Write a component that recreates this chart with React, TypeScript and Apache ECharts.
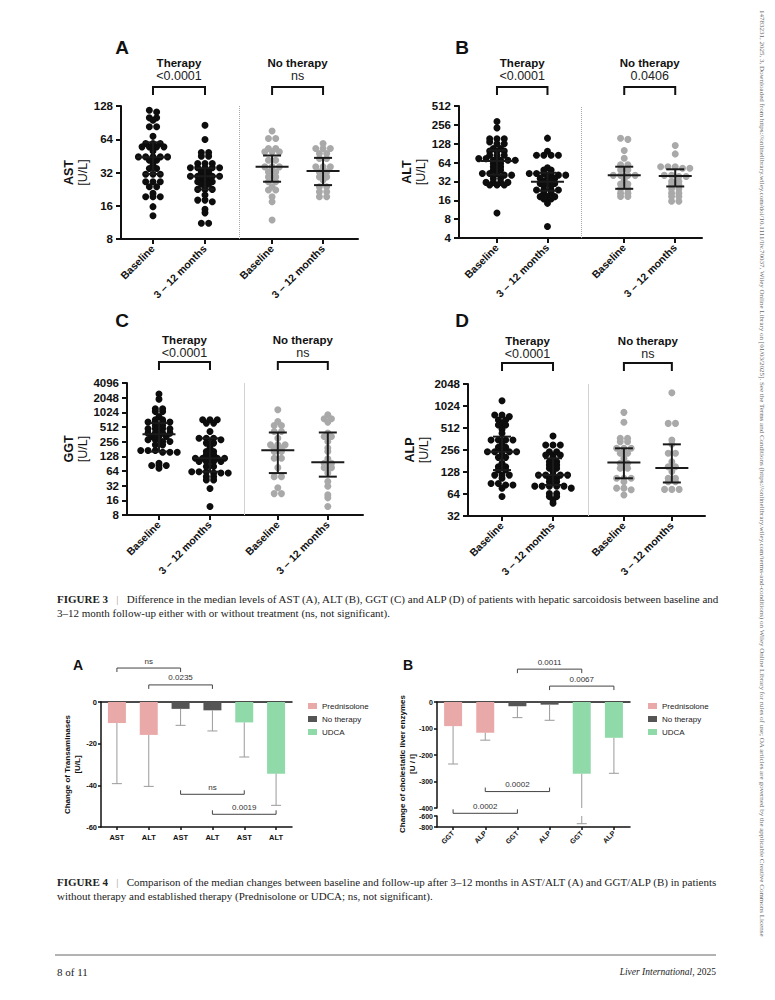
import React, { useEffect, useRef } from "react";
import * as echarts from "echarts";

const SANS = "'Liberation Sans', Arial, Helvetica, sans-serif";
const SERIF = "'Liberation Serif', 'Times New Roman', serif";
const INK = "#111111";
const DOT_THERAPY = "#0d0d0d";
const DOT_NOTHERAPY = "#a9a9a9";

// ---------------- Figure 3 data ----------------
const GROUP_LABELS = ["Baseline", "3 – 12 months", "Baseline", "3 – 12 months"];
const GROUP_TITLES = ["Therapy", "No therapy"];

// AST [U/L]
const AST_THERAPY_BASELINE = [117, 113, 100, 100, 95, 83, 83, 68, 58.5, 58.5, 58.5, 54.6, 54.6, 54.6, 54.6, 50, 44.3, 44.3, 44.3, 44.3, 44.3, 41.3, 41.3, 37.3, 34.8, 34.8, 30.9, 30.9, 30.9, 26.4, 26.4, 26.4, 23.8, 23.8, 20.7, 19.3, 19.3, 19.3, 15.7, 13];
const AST_THERAPY_FOLLOWUP = [85.6, 63.6, 48.5, 48.5, 45, 45, 38.6, 38.6, 38.6, 35.3, 35.3, 35.3, 35.3, 35.3, 32.4, 32.4, 29.6, 29.6, 29.6, 29.6, 29.6, 28.2, 28.2, 26.4, 26.4, 26.4, 25.1, 25.1, 22.5, 22.5, 22.5, 20, 18, 18, 17.4, 14.9, 13.8, 11.1, 11.1];
const AST_NOTHERAPY_BASELINE = [76, 65, 65, 52.7, 52.7, 49.2, 49.2, 49.2, 41.3, 41.3, 36, 36, 36, 32.4, 32.4, 29.2, 29.2, 26.4, 26.4, 23.8, 22.2, 22.2, 19.3, 17.4, 11.9];
const AST_NOTHERAPY_FOLLOWUP = [58.5, 52.7, 52.7, 52.7, 47.5, 47.5, 42.8, 42.8, 36, 36, 36, 32.4, 32.4, 29.2, 29.2, 27.3, 23.8, 23.8, 21.4, 21.4, 19.3, 19.3];
const AST_SUMMARY = [[44, 31, 60], [29.6, 22.5, 35], [36, 26.4, 45.6], [33, 24.6, 43.4]]; // median, Q1, Q3
const AST_PVALUES = ["<0.0001", "ns"];

// ALT [U/L]
const ALT_THERAPY_BASELINE = [290, 229, 153, 153, 153, 136, 128, 128, 107, 107, 98, 98, 98, 84, 84, 84, 74, 74, 69.6, 69.6, 69.6, 69.6, 62, 62, 54.7, 54.7, 48.5, 48.5, 42.9, 42.9, 42.9, 40.3, 40.3, 35.8, 35.8, 30.9, 30.9, 30.9, 30.9, 28.1, 28.1, 28.1, 10];
const ALT_THERAPY_FOLLOWUP = [157, 97, 84, 84, 84, 84, 52.7, 48.5, 48.5, 42.9, 42.9, 42.9, 40.3, 40.3, 40.3, 35.8, 35.8, 35.8, 32.5, 32.5, 29.7, 29.7, 29.7, 27.3, 27.3, 23.3, 23.3, 23.3, 23.3, 20.7, 20.7, 18.3, 18.3, 18.3, 16.8, 16.8, 14.3, 6.1];
const ALT_NOTHERAPY_BASELINE = [156, 150, 100, 75, 59, 59, 49, 49, 40, 40, 40, 40, 34, 29, 29, 24.4, 24.4, 20.8, 20.8, 18.4, 18.4];
const ALT_NOTHERAPY_FOLLOWUP = [120, 88, 55, 55, 55, 52, 52, 40, 40, 38.4, 38.4, 32, 32, 28.3, 28.3, 24.4, 24.4, 20.8, 20.8, 18.4, 18.4, 15.4, 15.4];
const ALT_SUMMARY = [[68, 41, 100], [31.6, 22.7, 44], [40, 24.4, 55], [39, 26.6, 50]];
const ALT_PVALUES = ["<0.0001", "0.0406"];

// GGT [U/L]
const GGT_THERAPY_BASELINE = [2435, 1910, 1210, 1210, 1070, 1070, 843, 720, 720, 645, 645, 645, 645, 550, 550, 471, 471, 471, 471, 383, 383, 383, 383, 326, 326, 326, 280, 280, 258, 258, 220, 220, 169, 169, 169, 155, 155, 155, 92, 83, 83, 83, 73];
const GGT_THERAPY_FOLLOWUP = [720, 720, 720, 615, 615, 413, 302, 302, 302, 280, 239, 239, 189, 161, 161, 137, 137, 117, 117, 117, 117, 117, 100, 100, 100, 100, 79, 79, 62, 62, 62, 58, 58, 58, 49, 49, 42, 42, 28, 12];
const GGT_NOTHERAPY_BASELINE = [1160, 665, 550, 550, 413, 413, 302, 220, 220, 220, 189, 189, 161, 161, 117, 117, 75, 49, 49, 29, 22, 22];
const GGT_NOTHERAPY_FOLLOWUP = [910, 755, 755, 645, 383, 326, 326, 258, 189, 161, 114, 92, 92, 75, 75, 58, 39, 31, 20.7, 18, 12];
const GGT_SUMMARY = [[365, 160, 615], [117, 62, 300], [170, 58, 395], [97, 49, 395]];
const GGT_PVALUES = ["<0.0001", "ns"];

// ALP [U/L]
const ALP_THERAPY_BASELINE = [1210, 770, 770, 733, 657, 657, 605, 564, 564, 491, 434, 350, 350, 350, 350, 300, 278, 278, 242, 242, 242, 242, 242, 218, 203, 203, 168, 151, 151, 136, 136, 116, 116, 116, 105, 89, 89, 85, 85, 77, 59];
const ALP_THERAPY_FOLLOWUP = [398, 300, 300, 300, 242, 242, 218, 218, 218, 203, 177, 177, 160, 160, 144, 144, 130, 116, 116, 116, 116, 116, 105, 105, 94, 94, 82, 82, 82, 82, 82, 77, 65, 65, 59, 59, 53, 48];
const ALP_NOTHERAPY_BASELINE = [838, 613, 370, 370, 333, 333, 270, 270, 270, 231, 231, 197, 168, 168, 144, 144, 105, 105, 105, 94, 77, 77, 73, 62];
const ALP_NOTHERAPY_FOLLOWUP = [1550, 592, 592, 350, 306, 231, 231, 177, 151, 151, 130, 105, 105, 94, 94, 74, 74, 74];
const ALP_SUMMARY = [[242, 136, 390], [116, 85, 197], [172, 105, 270], [145, 92, 306]];
const ALP_PVALUES = ["<0.0001", "ns"];

// ---------------- Figure 4 data ----------------
const TREATMENTS = ["Prednisolone", "No therapy", "UDCA"];
const TREATMENT_COLORS = ["#eaa9a9", "#555555", "#8fdaa8"];
const TRANS_CATEGORIES = ["AST", "ALT", "AST", "ALT", "AST", "ALT"];
const TRANS_TREATMENT = [0, 0, 1, 1, 2, 2];
const TRANS_MEDIAN_CHANGE = [-10.1, -15.8, -3.3, -4.0, -9.8, -34.4];
const TRANS_ERROR_LOW = [-39.2, -40.5, -11.2, -13.9, -26.4, -49.6];
const TRANS_COMPARISONS: [number, number, string][] = [[0, 2, "ns"], [1, 3, "0.0235"], [2, 4, "ns"], [3, 5, "0.0019"]];

const CHOL_CATEGORIES = ["GGT", "ALP", "GGT", "ALP", "GGT", "ALP"];
const CHOL_TREATMENT = [0, 0, 1, 1, 2, 2];
const CHOL_MEDIAN_CHANGE = [-91, -116, -16, -10, -271, -135];
const CHOL_ERROR_LOW = [-234, -144, -59, -69, -740, -269];
const CHOL_COMPARISONS: [number, number, string][] = [[2, 4, "0.0011"], [3, 5, "0.0067"], [1, 3, "0.0002"], [0, 2, "0.0002"]];

// ---------------- Layout ----------------
const FIG3_PANELS = [
  { letter: "A", lx: 122, ly: 47, label: "AST", groups: [AST_THERAPY_BASELINE, AST_THERAPY_FOLLOWUP, AST_NOTHERAPY_BASELINE, AST_NOTHERAPY_FOLLOWUP], summary: AST_SUMMARY, pvalues: AST_PVALUES, ymin: 8, ymax: 128,
    grid: { left: 121, top: 106, width: 237, height: 133 }, xpos: [0, 1, 2.29, 3.27], xmin: -0.615, xmax: 3.942, divider: 1.655, dividerType: "dotted", nameGap: 30, bracketOff: 19 },
  { letter: "B", lx: 462, ly: 47, label: "ALT", groups: [ALT_THERAPY_BASELINE, ALT_THERAPY_FOLLOWUP, ALT_NOTHERAPY_BASELINE, ALT_NOTHERAPY_FOLLOWUP], summary: ALT_SUMMARY, pvalues: ALT_PVALUES, ymin: 4, ymax: 512,
    grid: { left: 459, top: 106, width: 243, height: 132 }, xpos: [0, 1, 2.52, 3.53], xmin: -0.752, xmax: 4.06, divider: 1.66, dividerType: "dotted", nameGap: 26, bracketOff: 19 },
  { letter: "C", lx: 122, ly: 320, label: "GGT", groups: [GGT_THERAPY_BASELINE, GGT_THERAPY_FOLLOWUP, GGT_NOTHERAPY_BASELINE, GGT_NOTHERAPY_FOLLOWUP], summary: GGT_SUMMARY, pvalues: GGT_PVALUES, ymin: 8, ymax: 4096,
    grid: { left: 127, top: 383, width: 236, height: 132 }, xpos: [0, 1, 2.33, 3.31], xmin: -0.627, xmax: 4.0, divider: 1.667, dividerType: "solid", nameGap: 36, bracketOff: 21 },
  { letter: "D", lx: 462, ly: 320, label: "ALP", groups: [ALP_THERAPY_BASELINE, ALP_THERAPY_FOLLOWUP, ALP_NOTHERAPY_BASELINE, ALP_NOTHERAPY_FOLLOWUP], summary: ALP_SUMMARY, pvalues: ALP_PVALUES, ymin: 32, ymax: 2048,
    grid: { left: 468, top: 384, width: 237, height: 132 }, xpos: [0, 1, 2.39, 3.33], xmin: -0.667, xmax: 3.98, divider: 1.686, dividerType: "solid", nameGap: 35, bracketOff: 21 },
];

const TRANS_BRACKET_LEVEL = [16.3, 8.2, -44.3, -53.9];
const CHOL_BRACKET_LEVEL = [124, 60, -338, -420];

const DOT_SIZE = 7;
const DOT_SPACING = 7.3;
const ROW_HEIGHT = 2;

// GraphPad-like row layout: values that fall into the same narrow band are spread side by side
function rowOffsets(values: number[], pxPerLog2: number, d: number, band: number): number[] {
  const ys = values.map((v) => -Math.log2(v) * pxPerLog2);
  const order = values.map((_, i) => i).sort((a, b) => ys[a] - ys[b]);
  const xs: number[] = new Array(values.length).fill(0);
  let start = 0;
  while (start < order.length) {
    let end = start;
    while (end + 1 < order.length && ys[order[end + 1]] - ys[order[start]] < band) end++;
    const m = end - start + 1;
    for (let j = 0; j < m; j++) xs[order[start + j]] = (j - (m - 1) / 2) * d;
    start = end + 1;
  }
  return xs;
}

function nearestIndex(arr: number[], v: number) {
  let best = 0;
  for (let i = 1; i < arr.length; i++) if (Math.abs(arr[i] - v) < Math.abs(arr[best] - v)) best = i;
  return best;
}

function buildOption() {
  const grids: any[] = [];
  const xAxes: any[] = [];
  const yAxes: any[] = [];
  const series: any[] = [];
  const graphic: any[] = [];

  // ---------- Figure 3 ----------
  FIG3_PANELS.forEach((p, k) => {
    grids.push({ ...p.grid, outerBoundsMode: "none" });
    xAxes.push({
      type: "value", gridIndex: k, min: p.xmin, max: p.xmax,
      axisLine: { show: true, onZero: false, lineStyle: { color: INK, width: 2 } },
      axisTick: { show: true, customValues: p.xpos, length: 5, lineStyle: { color: INK, width: 2 } },
      axisLabel: {
        show: true, customValues: p.xpos, rotate: 45, margin: 8, color: INK,
        fontFamily: SANS, fontWeight: "bold", fontSize: 10.5,
        formatter: (v: number) => GROUP_LABELS[nearestIndex(p.xpos, v)],
      },
      splitLine: { show: false },
    });
    yAxes.push({
      type: "log", logBase: 2, gridIndex: k, min: p.ymin, max: p.ymax, splitNumber: 10,
      name: `{b|${p.label}}\n{n|[U/L]}`, nameLocation: "middle", nameRotate: 90, nameGap: p.nameGap,
      nameTextStyle: {
        rich: {
          b: { fontFamily: SANS, fontWeight: "bold", fontSize: 12.5, color: INK, lineHeight: 14 },
          n: { fontFamily: SANS, fontSize: 12.5, color: INK, lineHeight: 14 },
        },
      },
      axisLine: { show: true, onZero: false, lineStyle: { color: INK, width: 2 } },
      axisTick: { show: true, length: 5, lineStyle: { color: INK, width: 2 } },
      minorTick: { show: false },
      axisLabel: { color: INK, fontFamily: SANS, fontWeight: "bold", fontSize: 11.5, margin: 8, formatter: (v: number) => String(Math.round(v)) },
      splitLine: { show: false },
    });

    const pxPerLog2 = p.grid.height / (Math.log2(p.ymax) - Math.log2(p.ymin));
    p.groups.forEach((vals, g) => {
      const offs = rowOffsets(vals, pxPerLog2, DOT_SPACING, ROW_HEIGHT);
      const s: any = {
        type: "scatter", name: `${p.label}-${g}`, xAxisIndex: k, yAxisIndex: k, z: 2,
        symbol: "circle", symbolSize: DOT_SIZE, silent: true,
        itemStyle: { color: g < 2 ? DOT_THERAPY : DOT_NOTHERAPY, opacity: 1 },
        data: vals.map((v, i) => ({ value: [p.xpos[g], v], symbolOffset: [offs[i], 0] })),
      };
      if (g === 0) {
        s.markLine = {
          silent: true, symbol: ["none", "none"], label: { show: false },
          lineStyle: { color: p.dividerType === "dotted" ? "#a8a8a8" : "#d2d2d2", type: p.dividerType, width: 1 },
          emphasis: { disabled: true },
          data: [{ xAxis: p.divider }],
        };
      }
      series.push(s);
    });

    // median with interquartile range
    series.push({
      type: "custom", xAxisIndex: k, yAxisIndex: k, z: 4, silent: true,
      data: p.summary.map((s, g) => [p.xpos[g], s[0], s[1], s[2]]),
      renderItem: (params: any, api: any) => {
        const x = api.value(0);
        const pm = api.coord([x, api.value(1)]);
        const p1 = api.coord([x, api.value(2)]);
        const p3 = api.coord([x, api.value(3)]);
        const cx = pm[0];
        const st = { stroke: "#1a1a1a", lineWidth: 2 };
        return {
          type: "group",
          children: [
            { type: "line", shape: { x1: cx - 16.5, y1: pm[1], x2: cx + 16.5, y2: pm[1] }, style: st },
            { type: "line", shape: { x1: cx, y1: p1[1], x2: cx, y2: p3[1] }, style: st },
            { type: "line", shape: { x1: cx - 9, y1: p1[1], x2: cx + 9, y2: p1[1] }, style: st },
            { type: "line", shape: { x1: cx - 9, y1: p3[1], x2: cx + 9, y2: p3[1] }, style: st },
          ],
        };
      },
    });

    // group titles and comparison brackets
    series.push({
      type: "custom", xAxisIndex: k, yAxisIndex: k, z: 5, silent: true, clip: false,
      data: [[p.xpos[0], p.ymax, p.xpos[1]], [p.xpos[2], p.ymax, p.xpos[3]]],
      renderItem: (params: any, api: any) => {
        const i = params.dataIndex;
        const a = api.coord([api.value(0), api.value(1)]);
        const b = api.coord([api.value(2), api.value(1)]);
        const top = a[1];
        const yb = top - p.bracketOff;
        const cx = (a[0] + b[0]) / 2;
        return {
          type: "group",
          children: [
            { type: "polyline", shape: { points: [[a[0], yb + 8], [a[0], yb], [b[0], yb], [b[0], yb + 8]] }, style: { stroke: INK, lineWidth: 2, fill: null } },
            { type: "text", style: { text: p.pvalues[i], x: cx, y: top - 30, textAlign: "center", textVerticalAlign: "middle", fontFamily: SANS, fontSize: 12.5, fill: "#222" } },
            { type: "text", style: { text: GROUP_TITLES[i], x: cx, y: top - 43, textAlign: "center", textVerticalAlign: "middle", fontFamily: SANS, fontSize: 11.5, fontWeight: "bold", fill: INK } },
          ],
        };
      },
    });

    graphic.push({ type: "text", x: p.lx, y: p.ly, style: { text: p.letter, textAlign: "center", textVerticalAlign: "middle", font: `bold 19px ${SANS}`, fill: INK } });
  });

  // ---------- Figure 4 ----------
  const tickLabel = { color: INK, fontFamily: SANS, fontWeight: "bold", fontSize: 7.5 };
  const axisLineStyle = { color: INK, width: 1.5 };

  // grid 4: transaminases, grid 5/6: cholestatic enzymes (broken axis)
  grids.push({ left: 101, top: 702, width: 191, height: 125, outerBoundsMode: "none" });
  grids.push({ left: 437, top: 702, width: 193, height: 106, outerBoundsMode: "none" });
  grids.push({ left: 437, top: 816, width: 193, height: 11, outerBoundsMode: "none" });

  // xAxis 4 (grid 4 bottom), 5 (grid 4 top), 6 (grid 5 top), 7 (grid 6 bottom)
  xAxes.push({ type: "category", gridIndex: 4, data: TRANS_CATEGORIES, position: "bottom",
    axisLine: { show: true, onZero: false, lineStyle: axisLineStyle },
    axisTick: { show: true, alignWithLabel: true, length: 3, lineStyle: axisLineStyle },
    axisLabel: { ...tickLabel, margin: 6 }, splitLine: { show: false } });
  xAxes.push({ type: "category", gridIndex: 4, data: TRANS_CATEGORIES, position: "top",
    axisLine: { show: true, onZero: false, lineStyle: axisLineStyle }, axisTick: { show: false }, axisLabel: { show: false } });
  xAxes.push({ type: "category", gridIndex: 5, data: CHOL_CATEGORIES, position: "top",
    axisLine: { show: true, onZero: false, lineStyle: axisLineStyle }, axisTick: { show: false }, axisLabel: { show: false } });
  xAxes.push({ type: "category", gridIndex: 6, data: CHOL_CATEGORIES, position: "bottom",
    axisLine: { show: true, onZero: false, lineStyle: axisLineStyle },
    axisTick: { show: true, alignWithLabel: true, length: 3, lineStyle: axisLineStyle },
    axisLabel: { ...tickLabel, rotate: 45, margin: 5, fontSize: 7 }, splitLine: { show: false } });

  // yAxis 4 (grid 4), 5 (grid 5), 6 (grid 6)
  yAxes.push({ type: "value", gridIndex: 4, min: -60, max: 0, interval: 20,
    name: "Change of Transaminases\n[U/L]", nameLocation: "middle", nameRotate: 90, nameGap: 17,
    nameTextStyle: { fontFamily: SANS, fontWeight: "bold", fontSize: 8, color: INK, lineHeight: 10 },
    axisLine: { show: true, onZero: false, lineStyle: axisLineStyle },
    axisTick: { show: true, length: 3, lineStyle: axisLineStyle },
    axisLabel: { ...tickLabel, margin: 4 }, splitLine: { show: false } });
  yAxes.push({ type: "value", gridIndex: 5, min: -400, max: 0, interval: 100,
    axisLine: { show: true, onZero: false, lineStyle: axisLineStyle },
    axisTick: { show: true, length: 3, lineStyle: axisLineStyle },
    axisLabel: { ...tickLabel, fontSize: 7, margin: 4 }, splitLine: { show: false } });
  yAxes.push({ type: "value", gridIndex: 6, min: -800, max: -600, interval: 200,
    axisLine: { show: true, onZero: false, lineStyle: axisLineStyle },
    axisTick: { show: true, length: 3, lineStyle: axisLineStyle },
    axisLabel: { ...tickLabel, fontSize: 7, margin: 4 }, splitLine: { show: false } });

  const addBars = (xi: number, yi: number, med: number[], grp: number[]) => {
    TREATMENTS.forEach((name, t) => {
      series.push({
        type: "bar", name, xAxisIndex: xi, yAxisIndex: yi, barWidth: 18, barGap: "-100%", z: 2, silent: true,
        itemStyle: { color: TREATMENT_COLORS[t] },
        data: med.map((v, i) => (grp[i] === t ? v : "-")),
      });
    });
  };
  const addErrors = (xi: number, yi: number, med: number[], err: number[]) => {
    series.push({
      type: "custom", xAxisIndex: xi, yAxisIndex: yi, z: 3, silent: true, clip: true,
      data: med.map((v, i) => [i, v, err[i]]),
      renderItem: (params: any, api: any) => {
        const p0 = api.coord([api.value(0), api.value(1)]);
        const p1 = api.coord([api.value(0), api.value(2)]);
        const st = { stroke: "#9a9a9a", lineWidth: 1 };
        return {
          type: "group",
          children: [
            { type: "line", shape: { x1: p0[0], y1: p0[1], x2: p0[0], y2: p1[1] }, style: st },
            { type: "line", shape: { x1: p0[0] - 5, y1: p1[1], x2: p0[0] + 5, y2: p1[1] }, style: st },
          ],
        };
      },
    });
  };
  const addBrackets = (xi: number, yi: number, comps: [number, number, string][], levels: number[]) => {
    series.push({
      type: "custom", xAxisIndex: xi, yAxisIndex: yi, z: 5, silent: true, clip: false,
      data: comps.map((c, i) => [c[0], levels[i], c[1]]),
      renderItem: (params: any, api: any) => {
        const i = params.dataIndex;
        const a = api.coord([api.value(0), api.value(1)]);
        const b = api.coord([api.value(2), api.value(1)]);
        const y = a[1];
        const dir = i < 2 ? 4 : -4;
        return {
          type: "group",
          children: [
            { type: "polyline", shape: { points: [[a[0], y + dir], [a[0], y], [b[0], y], [b[0], y + dir]] }, style: { stroke: "#444", lineWidth: 1, fill: null } },
            { type: "text", style: { text: comps[i][2], x: (a[0] + b[0]) / 2, y: y - 7, textAlign: "center", textVerticalAlign: "middle", fontFamily: SANS, fontSize: 8, fill: "#333" } },
          ],
        };
      },
    });
  };

  addBars(4, 4, TRANS_MEDIAN_CHANGE, TRANS_TREATMENT);
  addErrors(4, 4, TRANS_MEDIAN_CHANGE, TRANS_ERROR_LOW);
  addBrackets(4, 4, TRANS_COMPARISONS, TRANS_BRACKET_LEVEL);

  addBars(6, 5, CHOL_MEDIAN_CHANGE, CHOL_TREATMENT);
  addErrors(6, 5, CHOL_MEDIAN_CHANGE, CHOL_ERROR_LOW);
  addErrors(7, 6, CHOL_MEDIAN_CHANGE, CHOL_ERROR_LOW);
  addBrackets(6, 5, CHOL_COMPARISONS, CHOL_BRACKET_LEVEL);

  const legendBase = {
    data: TREATMENTS, orient: "vertical", top: 702, padding: 0, itemWidth: 9, itemHeight: 6, itemGap: 5,
    icon: "rect", selectedMode: false, textStyle: { fontFamily: SANS, fontSize: 8, color: "#222" },
  };

  graphic.push(
    { type: "text", x: 78, y: 665, style: { text: "A", textAlign: "center", textVerticalAlign: "middle", font: `bold 14px ${SANS}`, fill: INK } },
    { type: "text", x: 408, y: 665, style: { text: "B", textAlign: "center", textVerticalAlign: "middle", font: `bold 14px ${SANS}`, fill: INK } },
    { type: "text", x: 407, y: 764, rotation: Math.PI / 2, style: { text: "Change of cholestatic liver enzymes\n[U / l]", textAlign: "center", textVerticalAlign: "middle", font: `bold 8px ${SANS}`, lineHeight: 10, fill: INK } },
  );

  // ---------- Captions, footer, margin note ----------
  const CAP_SIZE = 11;
  const cap = (x: number, y: number, text: string) => ({
    type: "text", x, y,
    style: {
      text, textVerticalAlign: "middle", fontFamily: SERIF, fontSize: CAP_SIZE, fill: "#222",
      rich: { b: { fontFamily: SERIF, fontSize: CAP_SIZE, fontWeight: "bold", fill: "#222" }, s: { fontFamily: SERIF, fontSize: CAP_SIZE, fill: "#999" } },
    },
  });
  graphic.push(
    cap(57, 599, "{b|FIGURE 3}{s|   |   }Difference in the median levels of AST (A), ALT (B), GGT (C) and ALP (D) of patients with hepatic sarcoidosis between baseline and"),
    cap(57, 613, "3–12 month follow-up either with or without treatment (ns, not significant)."),
    cap(57, 882, "{b|FIGURE 4}{s|   |   }Comparison of the median changes between baseline and follow-up after 3–12 months in AST/ALT (A) and GGT/ALP (B) in patients"),
    cap(57, 896, "without therapy and established therapy (Prednisolone or UDCA; ns, not significant)."),
    { type: "line", shape: { x1: 55, y1: 955, x2: 716, y2: 955 }, style: { stroke: "#666", lineWidth: 1 } },
    { type: "text", x: 57, y: 972, style: { text: "8 of 11", textVerticalAlign: "middle", font: `11px ${SERIF}`, fill: "#222" } },
    { type: "text", x: 716, y: 972, style: { text: "{i|Liver International}, 2025", textAlign: "right", textVerticalAlign: "middle", fontFamily: SERIF, fontSize: 9.5, fill: "#222", rich: { i: { fontFamily: SERIF, fontSize: 9.5, fontStyle: "italic", fill: "#222" } } } },
    { type: "text", x: 762, y: 10, rotation: -Math.PI / 2, style: {
      text: "14783231, 2025, 3, Downloaded from https://onlinelibrary.wiley.com/doi/10.1111/liv.70037, Wiley Online Library on [01/03/2025]. See the Terms and Conditions (https://onlinelibrary.wiley.com/terms-and-conditions) on Wiley Online Library for rules of use; OA articles are governed by the applicable Creative Commons License",
      textAlign: "left", textVerticalAlign: "middle", font: `7px ${SERIF}`, fill: "#666" } },
  );

  return {
    animation: false,
    backgroundColor: "#ffffff",
    textStyle: { fontFamily: SANS },
    tooltip: { show: false },
    legend: [{ ...legendBase, left: 308 }, { ...legendBase, left: 648 }],
    grid: grids,
    xAxis: xAxes,
    yAxis: yAxes,
    series,
    graphic,
  };
}

export default function App() {
  const ref = useRef<HTMLDivElement>(null);
  useEffect(() => {
    const chart = echarts.init(ref.current as HTMLDivElement, null, { renderer: "svg" });
    chart.setOption(buildOption() as any);
    return () => chart.dispose();
  }, []);
  return <div ref={ref} style={{ position: "absolute", left: 0, top: 0, width: 775, height: 1000, background: "#fff" }} />;
}
